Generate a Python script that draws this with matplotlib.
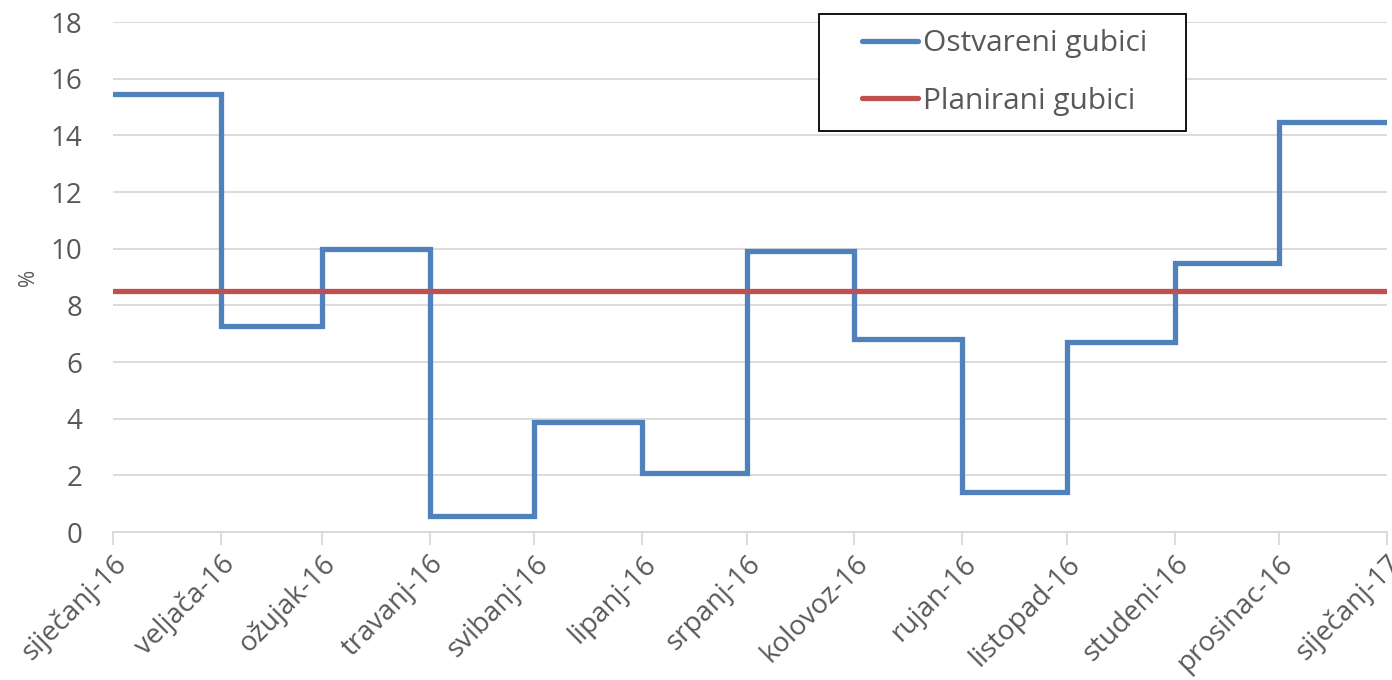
import matplotlib
matplotlib.use('Agg')
import matplotlib.pyplot as plt
from matplotlib.patches import Rectangle
import numpy as np
from datetime import date

# monthly data
months = [date(2016, m, 1) for m in range(1, 13)] + [date(2017, 1, 1)]
month_labels = ['siječanj-16', 'veljača-16', 'ožujak-16', 'travanj-16', 'svibanj-16',
                'lipanj-16', 'srpanj-16', 'kolovoz-16', 'rujan-16', 'listopad-16',
                'studeni-16', 'prosinac-16', 'siječanj-17']
ostvareni = [15.45, 7.28, 10.0, 0.58, 3.87, 2.1, 9.93, 6.81, 1.43, 6.7, 9.5, 14.47, 14.47]
planirani = [8.5] * 13

plt.rcParams['font.family'] = ['Open Sans', 'DejaVu Sans']

W, H = 1392, 680
fig = plt.figure(figsize=(W / 100, H / 100), dpi=100)
ax = fig.add_axes([0.0812, 0.2176, 0.9152, 0.75])

ax.step(months, ostvareni, where='post', color='#4f81bd', lw=3.8,
        label='Ostvareni gubici', solid_joinstyle='miter', solid_capstyle='round', zorder=3)
ax.plot(months, planirani, color='#c0504d', lw=3.8, label='Planirani gubici',
        solid_capstyle='round', zorder=4)

ax.set_xlim(months[0], months[-1])
ax.set_ylim(0, 18)
ax.set_yticks(np.arange(0, 19, 2))
ax.set_xticks(months)
ax.set_xticklabels(month_labels, rotation=45, ha='right', rotation_mode='anchor')

ax.grid(axis='y', color='#d9d9d9', lw=1.3)
ax.set_axisbelow(True)
for s in ['top', 'right', 'left']:
    ax.spines[s].set_visible(False)
ax.spines['bottom'].set_color('#d9d9d9')
ax.spines['bottom'].set_linewidth(1.3)
ax.tick_params(axis='y', length=0, labelsize=20, colors='#595959', pad=22)
ax.tick_params(axis='x', length=9, width=1.3, color='#d9d9d9', labelsize=20,
               labelcolor='#595959', pad=4)

ax.set_ylabel('%', fontsize=15, color='#595959', labelpad=8)

# legend text without frame, frame drawn separately (wider side padding like Excel)
leg = ax.legend(loc='center left', bbox_to_anchor=(862 / W, 1 - 72.5 / H),
                bbox_transform=fig.transFigure, fontsize=21.5, frameon=False,
                labelcolor='#595959', handlelength=1.87, handletextpad=0.17,
                borderpad=0, labelspacing=0.95, borderaxespad=0)
leg.set_zorder(6)
ax.add_patch(Rectangle((819 / W, 1 - 131 / H), 367 / W, 117 / H,
                       transform=fig.transFigure, facecolor='white',
                       edgecolor='black', lw=1.3, zorder=5, clip_on=False))

fig.savefig('out.png', dpi=100)
